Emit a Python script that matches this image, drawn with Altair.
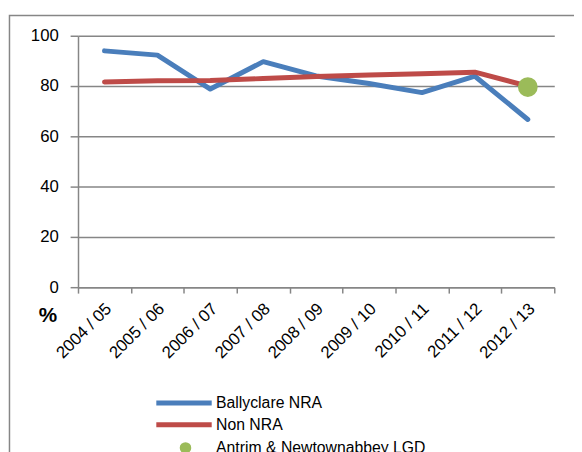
import altair as alt
import pandas as pd

years = ["2004 / 05", "2005 / 06", "2006 / 07", "2007 / 08", "2008 / 09",
         "2009 / 10", "2010 / 11", "2011 / 12", "2012 / 13"]
ballyclare = [94.0, 92.3, 78.8, 89.7, 84.0, 81.0, 77.4, 83.9, 66.7]
non_nra = [81.6, 82.1, 82.2, 83.0, 83.8, 84.4, 84.9, 85.5, 80.0]
lgd_year = ["2012 / 13"]
lgd_value = [79.6]

line_names = ["Ballyclare NRA", "Non NRA"]
line_colors = ["#4a7ebb", "#be4b48"]
dot_names = ["Antrim & Newtownabbey LGD"]
dot_colors = ["#9bbb59"]

df = pd.DataFrame(
    [{"year": y, "value": v, "series": line_names[0]} for y, v in zip(years, ballyclare)]
    + [{"year": y, "value": v, "series": line_names[1]} for y, v in zip(years, non_nra)]
)
df_lgd = pd.DataFrame({"year": lgd_year, "value": lgd_value, "series": dot_names[0]})

FONT = "Liberation Sans"

line_legend = alt.Legend(
    title=None,
    orient="none",
    legendX=99,
    legendY=364,
    direction="vertical",
    labelFont=FONT,
    labelFontSize=16,
    labelColor="#000000",
    labelOffset=24,
    labelLimit=0,
    symbolType="M-4.8,0L4.8,0",
    symbolSize=137,
    symbolStrokeWidth=5,
    rowPadding=1,
)
dot_legend = alt.Legend(
    title=None,
    orient="none",
    legendX=101,
    legendY=410,
    direction="vertical",
    labelFont=FONT,
    labelFontSize=16,
    labelColor="#000000",
    labelOffset=23,
    labelLimit=0,
    symbolType="circle",
    symbolSize=137,
    symbolStrokeWidth=0,
)

x_enc = alt.X(
    "year:N",
    sort=years,
    scale=alt.Scale(type="band", paddingInner=0, paddingOuter=0, domain=years),
    axis=alt.Axis(
        title=None,
        tickBand="extent",
        labelAngle=-45,
        labelAlign="right",
        labelBaseline="middle",
        labelFont=FONT,
        labelFontSize=17,
        labelColor="#000000",
        labelPadding=13,
        labelOffset=4,
        tickSize=6,
        tickColor="#868686",
        tickWidth=1.5,
        domainColor="#868686",
        domainWidth=1.5,
        grid=False,
    ),
)

y_enc = alt.Y(
    "value:Q",
    scale=alt.Scale(domain=[0, 100], nice=False, zero=True),
    axis=alt.Axis(
        values=[0, 20, 40, 60, 80, 100],
        title="%",
        titleAngle=0,
        titleFont=FONT,
        titleFontSize=21,
        titleFontWeight="bold",
        titleColor="#000000",
        titleX=-31,
        titleY=284,
        titleAlign="center",
        titleBaseline="middle",
        labelFont=FONT,
        labelFontSize=17,
        labelColor="#000000",
        labelPadding=12,
        tickSize=8,
        tickColor="#868686",
        tickWidth=1.5,
        domainColor="#868686",
        domainWidth=1.5,
        grid=True,
        gridColor="#868686",
        gridWidth=1.5,
    ),
)

stroke_enc = alt.Stroke(
    "series:N",
    scale=alt.Scale(domain=line_names, range=line_colors),
    legend=line_legend,
)
fill_enc = alt.Fill(
    "series:N",
    scale=alt.Scale(domain=dot_names, range=dot_colors),
    legend=dot_legend,
)

border = alt.Chart(alt.Data(values=[{}])).mark_rect(
    fill=None, stroke="#868686", strokeWidth=1.5, clip=False
).encode(
    x=alt.value(-69.5), x2=alt.value(700), y=alt.value(-20.5), y2=alt.value(700)
)

line_b = alt.Chart(df).transform_filter(
    alt.datum.series == line_names[0]
).mark_line(strokeWidth=5, strokeCap="round", strokeJoin="round").encode(
    x=x_enc, y=y_enc, stroke=stroke_enc
)
line_n = alt.Chart(df).transform_filter(
    alt.datum.series == line_names[1]
).mark_line(strokeWidth=5, strokeCap="round", strokeJoin="round").encode(
    x=x_enc, y=y_enc, stroke=stroke_enc
)
dot = alt.Chart(df_lgd).mark_point(size=400, filled=True, opacity=1, shape="circle", strokeWidth=0).encode(
    x=x_enc, y=y_enc, fill=fill_enc
)

chart = alt.layer(border, line_b, line_n, dot).properties(
    width=483,
    height=255,
    padding={"left": 71, "top": 25, "right": 20, "bottom": 164},
    autosize=alt.AutoSizeParams(type="none"),
    background="#ffffff",
).configure_view(stroke=None)

chart.save("out.html", embed_options={"renderer": "svg", "actions": False})
